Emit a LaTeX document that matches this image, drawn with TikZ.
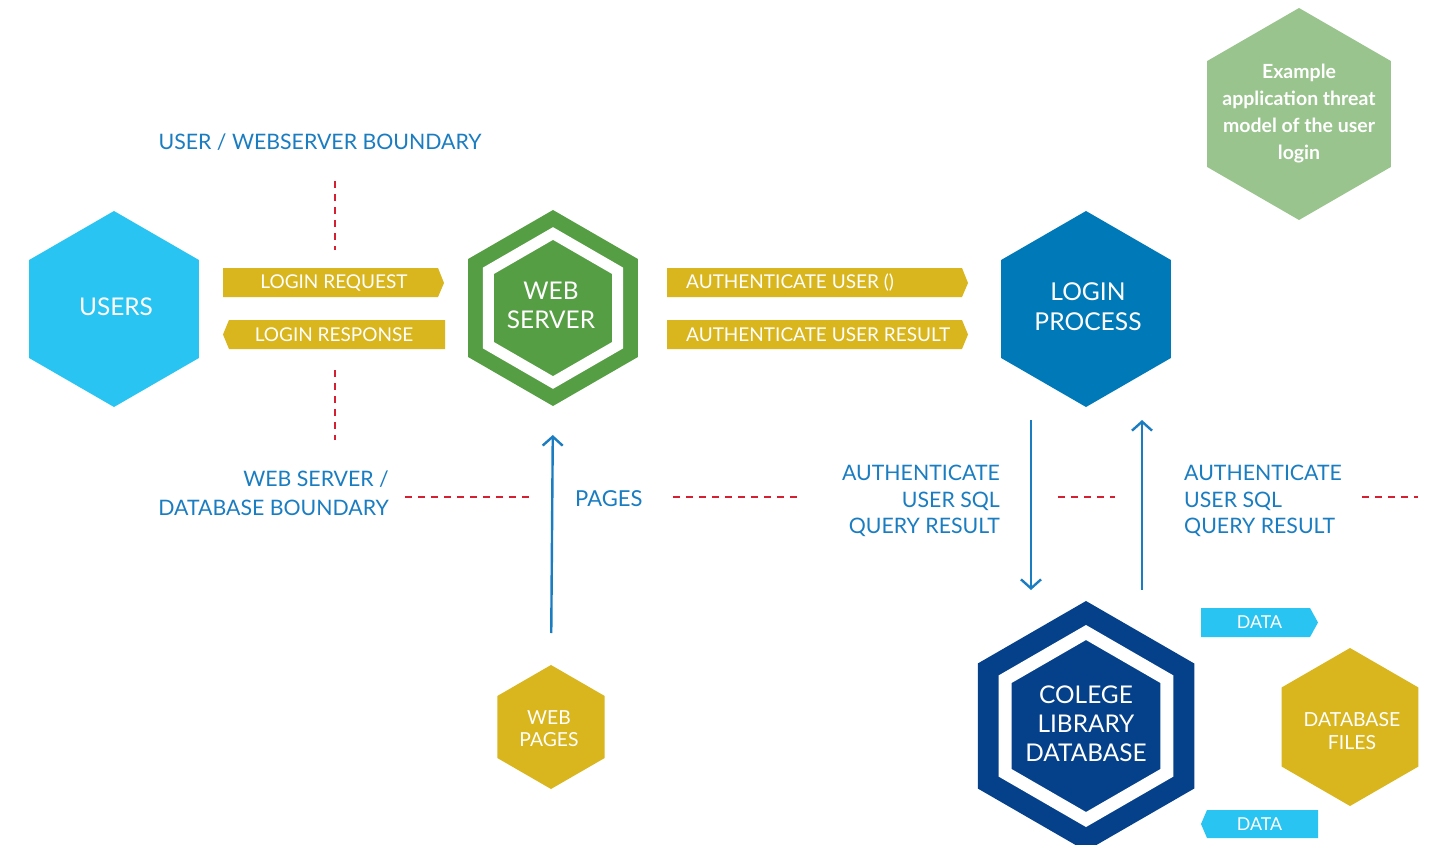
\documentclass[tikz,border=0pt]{standalone}
\usepackage{fontspec}
\setmainfont{Lato}
\usetikzlibrary{shapes.geometric,arrows.meta}
\definecolor{cyanhex}{HTML}{29C4F1}
\definecolor{greenhex}{HTML}{559E44}
\definecolor{loginblue}{HTML}{0079B8}
\definecolor{dbblue}{HTML}{05418A}
\definecolor{gold}{HTML}{D9B61E}
\definecolor{sage}{HTML}{99C48E}
\definecolor{labelblue}{HTML}{1A7DC1}
\definecolor{bred}{HTML}{D42030}
\tikzset{
  hex/.style={regular polygon, regular polygon sides=6, shape border rotate=30, inner sep=0pt, outer sep=0pt, draw=none},
  hextext/.style={text=white, align=center, inner sep=0pt},
  lbl/.style={text=labelblue, inner sep=0pt, font=\fontsize{21.3}{26.5}\selectfont},
  bantext/.style={text=white, inner sep=0pt, font=\fontsize{19}{20}\selectfont},
  boundary/.style={draw=bred, line width=2.4pt, dash pattern=on 7pt off 6pt},
  flow/.style={draw=labelblue, line width=2.4pt, -{Straight Barb[length=9pt,width=20pt,line width=2.4pt]}},
}
\begin{document}
\begin{tikzpicture}[x=1pt,y=-1pt]
\useasboundingbox (0,0) rectangle (1431,845);
\fill[white] (0,0) rectangle (1431,845);

% hexagons
\node[hex, fill=cyanhex, minimum size=196pt] (users) at (114,309) {};
\node[hextext, font=\fontsize{24.4}{29}\selectfont] at (116,307) {USERS};

\node[hex, fill=greenhex, minimum size=196pt] (web) at (553,308) {};
\node[hex, fill=greenhex, draw=white, line width=11pt, minimum size=149pt] (webin) at (553,308) {};
\node[hextext, font=\fontsize{24.4}{29}\selectfont] at (551,305) {WEB\\SERVER};

\node[hex, fill=loginblue, minimum size=196pt] (login) at (1086,309) {};
\node[hextext, font=\fontsize{24.6}{30}\selectfont] at (1088,307) {LOGIN\\PROCESS};

\node[hex, fill=sage, minimum size=212pt] (example) at (1299,114) {};
\node[hextext, font=\bfseries\fontsize{19.5}{27}\selectfont] at (1299,114) {Example\\application threat\\model of the user\\login};

\node[hex, fill=gold, minimum size=124pt] (pages) at (551,727) {};
\node[hextext, font=\fontsize{19.3}{22}\selectfont] at (549,729) {WEB\\PAGES};

\node[hex, fill=dbblue, minimum size=250pt] (db) at (1086,726) {};
\node[hex, fill=dbblue, draw=white, line width=13pt, minimum size=187pt] (dbin) at (1086,726) {};
\node[hextext, font=\fontsize{24.4}{29}\selectfont] at (1086,724) {COLEGE\\LIBRARY\\DATABASE};

\node[hex, fill=gold, minimum size=158pt] (files) at (1350,727) {};
\node[hextext, font=\fontsize{19.4}{23}\selectfont] at (1352,731) {DATABASE\\FILES};

% banners
\fill[gold] (223,268) -- (438,268) -- (444,283) -- (438,297) -- (223,297) -- cycle;
\node[bantext] (req) at (334,283) {LOGIN REQUEST};
\fill[gold] (445,320) -- (229,320) -- (223,334.5) -- (229,349) -- (445,349) -- cycle;
\node[bantext] (resp) at (334,334.5) {LOGIN RESPONSE};
\fill[gold] (667,268) -- (962,268) -- (968,283) -- (962,297) -- (667,297) -- cycle;
\node[bantext, anchor=west] (auth) at (686,283) {AUTHENTICATE USER ()};
\fill[gold] (667,320) -- (962,320) -- (968,334.5) -- (962,349) -- (667,349) -- cycle;
\node[bantext, anchor=west] (authres) at (686,334.5) {AUTHENTICATE USER RESULT};
\fill[cyanhex] (1201,608) -- (1310,608) -- (1318,622.5) -- (1310,637) -- (1201,637) -- cycle;
\node[bantext, font=\fontsize{17.8}{20}\selectfont] (data1) at (1259.5,622.5) {DATA};
\fill[cyanhex] (1318,810) -- (1207,810) -- (1201,824) -- (1207,838) -- (1318,838) -- cycle;
\node[bantext, font=\fontsize{17.8}{20}\selectfont] (data2) at (1259.5,824) {DATA};

% boundaries
\draw[boundary] (335,181) -- (335,250);
\draw[boundary] (335,370) -- (335,440);
\draw[boundary] (405,497) -- (530,497);
\draw[boundary] (673,497) -- (797,497);
\draw[boundary] (1058,497) -- (1115,497);
\draw[boundary] (1362,497) -- (1418,497);

% labels
\node[lbl] (ub) at (320,142) {USER / WEBSERVER BOUNDARY};
\node[lbl, anchor=east, align=right, font=\fontsize{21.3}{29}\selectfont] (wdb) at (389,493) {WEB SERVER /\\DATABASE BOUNDARY};
\node[lbl, anchor=west, font=\fontsize{22}{26}\selectfont] (pglbl) at (575,499) {PAGES};
\node[lbl, anchor=east, align=right] (sqll) at (1000,501) {AUTHENTICATE\\USER SQL\\QUERY RESULT};
\node[lbl, anchor=west, align=left] (sqlr) at (1184,501) {AUTHENTICATE\\USER SQL\\QUERY RESULT};

% flows
\coordinate (dnx) at (1031,0);
\coordinate (upx) at (1142,0);
\draw[flow, shorten <=32pt, shorten >=29pt] (pages.north) -- (web.south);
\draw[flow, shorten <=13pt, shorten >=11pt] (login.south -| dnx) -- (db.north -| dnx);
\draw[flow, shorten <=11pt, shorten >=13pt] (db.north -| upx) -- (login.south -| upx);
\end{tikzpicture}
\end{document}
